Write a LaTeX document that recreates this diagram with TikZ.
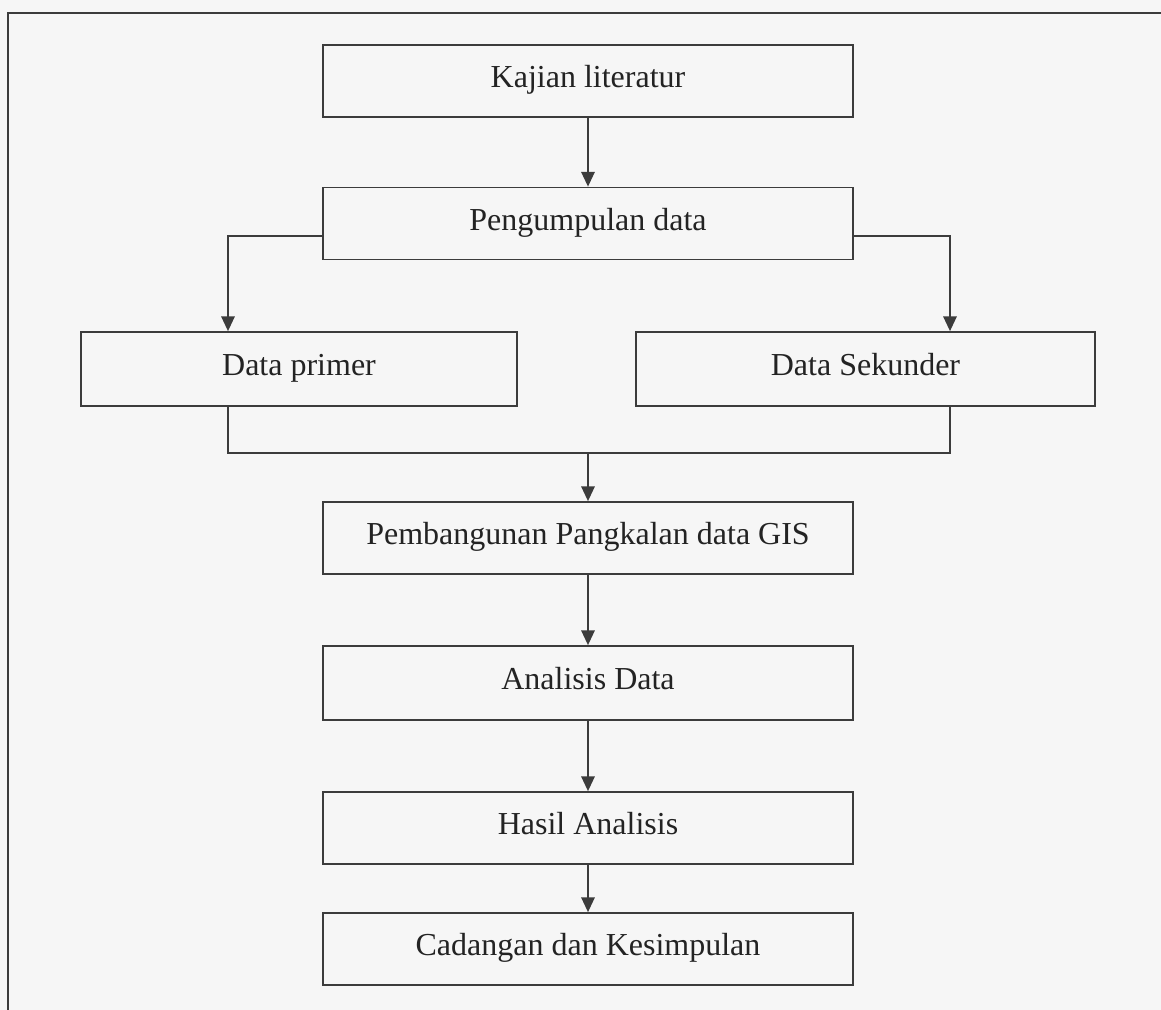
\documentclass[tikz,border=0pt]{standalone}
\usepackage{fontspec}
\setmainfont{Liberation Serif}
\usetikzlibrary{arrows.meta}

\begin{document}
\begin{tikzpicture}[x=0.75pt,y=0.75pt,yscale=-1,xscale=1,
  line/.style={draw={rgb,255:red,60;green,60;blue,60},line width=1.3pt},
  arr/.style={line,-{Triangle[length=11pt,width=10pt]}},
  box/.style={line,rectangle,minimum width=397.5pt,minimum height=54pt,inner sep=0pt,
    text height=16pt,text depth=6pt,
    font=\fontsize{24}{28}\selectfont,text={rgb,255:red,35;green,35;blue,35}},
  sidebox/.style={box,minimum height=55.5pt}]
%set diagram to 1161 x 1010
\useasboundingbox[fill={rgb,255:red,246;green,246;blue,246}] (0,0) rectangle (1161,1010);

%Frame
\draw [line] (8,1010) -- (8,13) -- (1161,13) ;

%Shape: Rectangle
\node (kajian) at (588,81) [box] {Kajian literatur};
%Shape: Rectangle
\node (kumpul) at (588,223.5) [box] {Pengumpulan data};
%Shape: Rectangle
\node (primer) at (299,369) [sidebox,minimum width=327pt] {Data primer};
%Shape: Rectangle
\node (sekunder) at (865.5,369) [sidebox,minimum width=344.25pt] {Data Sekunder};
%Shape: Rectangle
\node (bangun) at (588,538) [box] {Pembangunan Pangkalan data GIS};
%Shape: Rectangle
\node (analisis) at (588,683) [sidebox,minimum width=397.5pt] {Analisis Data};
%Shape: Rectangle
\node (hasil) at (588,828) [box] {Hasil Analisis};
%Shape: Rectangle
\node (cadangan) at (588,949) [box] {Cadangan dan Kesimpulan};

\coordinate (kiri) at (228,236);
\coordinate (kanan) at (950,236);
\coordinate (sambung) at (588,453);

%Straight Lines
\draw [arr] (kajian) -- (kumpul) ;
%Straight Lines
\draw [arr] (kumpul.west |- kiri) -- (kiri) -- (kiri |- primer.north) ;
\draw [arr] (kumpul.east |- kanan) -- (kanan) -- (kanan |- sekunder.north) ;
%Straight Lines
\draw [line] (kiri |- primer.south) -- (kiri |- sambung) -- (kanan |- sambung) -- (kanan |- sekunder.south) ;
\draw [arr] (sambung) -- (bangun) ;
%Straight Lines
\draw [arr] (bangun) -- (analisis) ;
\draw [arr] (analisis) -- (hasil) ;
\draw [arr] (hasil) -- (cadangan) ;
\end{tikzpicture}
\end{document}
